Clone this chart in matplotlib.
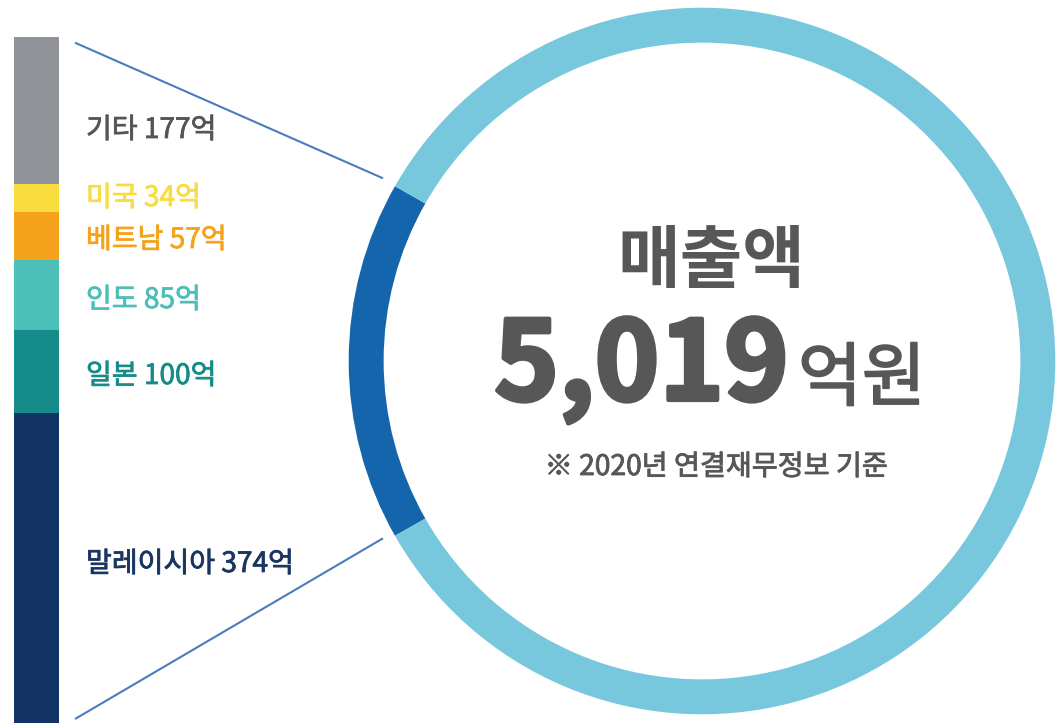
import matplotlib
matplotlib.use("Agg")
import matplotlib.pyplot as plt
import matplotlib.patheffects as pe

plt.rcParams['font.family'] = ['Noto Sans CJK KR', 'DejaVu Sans']

# ---- data ----
countries = ['말레이시아', '일본', '인도', '베트남', '미국', '기타']
values = [374, 100, 85, 57, 34, 177]
bar_colors = ['#133364', '#168c8a', '#4bbfb8', '#f5a31c', '#f9dc3e', '#909498']
label_colors = ['#1a3560', '#168c8a', '#4bbfb8', '#f5a31c', '#f9dc3e', '#555555']
total_sales = 5019
title = '매출액'
total_text = '5,019'
unit_text = '억원'
note = '※ 2020년 연결재무정보 기준'

W, H = 1061, 723
fig = plt.figure(figsize=(W / 100, H / 100), dpi=100)
fig.patch.set_facecolor('white')

# ---- stacked bar ----
bar_left, bar_right, bar_top = 14, 58.7, 37.3
axb = fig.add_axes([bar_left / W, 0, (bar_right - bar_left) / W, (H - bar_top) / H])
bottom = 0
for v, c in zip(values, bar_colors):
    axb.bar(0, v, bottom=bottom, width=1.0, color=c, edgecolor='none')
    bottom += v
axb.set_xlim(-0.5, 0.5)
axb.set_ylim(0, sum(values))
axb.axis('off')

# ---- donut ----
cx, cy, R = 702, 361, 354
axd = fig.add_axes([(cx - R) / W, (H - cy - R) / H, 2 * R / W, 2 * R / H])
overseas = sum(values)
share = [overseas, total_sales - overseas]
ang = overseas / total_sales * 360
axd.pie(share, colors=['#1565ad', '#78c8dd'], startangle=180 - ang / 2,
        counterclock=True, wedgeprops=dict(width=35 / R, edgecolor='none', linewidth=0))
axd.set_xlim(-1.002, 1.002)
axd.set_ylim(-1.002, 1.002)
axd.axis('off')

# ---- overlay: lines and text ----
ax = fig.add_axes([0, 0, 1, 1], zorder=5)
ax.set_xlim(0, W)
ax.set_ylim(H, 0)
ax.axis('off')
ax.patch.set_alpha(0)

ax.plot([75, 383], [42.7, 178.3], color='#4a7bbf', lw=1.5, solid_capstyle='butt')
ax.plot([75, 383], [719, 538.3], color='#4a7bbf', lw=1.5, solid_capstyle='butt')

def thick(c, w):
    return [pe.withStroke(linewidth=w, foreground=c)]

label_y = [564, 376, 300, 240, 198, 130]
for name, v, c, y in zip(countries, values, label_colors, label_y):
    ax.text(86, y, f'{name} {v}억', color=c, fontsize=20.2, fontweight='normal',
            ha='left', va='center', path_effects=thick(c, 0.55))

gray = '#575757'
ax.text(711, 262, title, color=gray, fontsize=49, fontweight='bold',
        ha='center', va='center')
ax.text(789, 400, total_text, color=gray, fontsize=79, fontweight='heavy',
        ha='right', va='baseline', path_effects=thick(gray, 3))
ax.text(798, 400, unit_text, color=gray, fontsize=50, fontweight='normal',
        ha='left', va='baseline', path_effects=thick(gray, 1.3))
ax.text(716, 467, note, color=gray, fontsize=20.3, fontweight='normal',
        ha='center', va='center', path_effects=thick(gray, 0.6))

fig.savefig('out.png', dpi=100, facecolor='white')
